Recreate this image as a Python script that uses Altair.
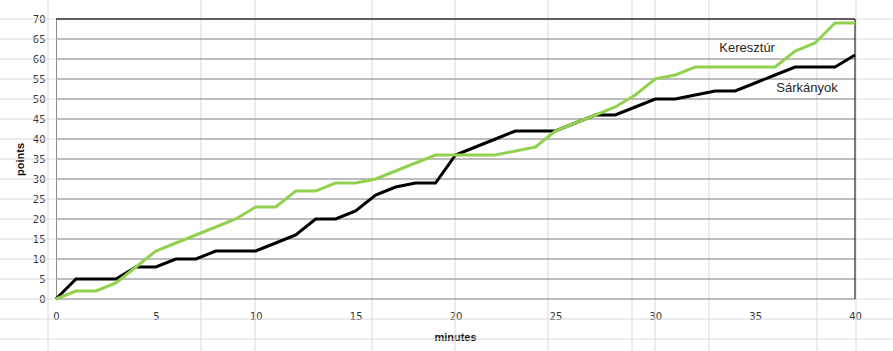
import altair as alt
import pandas as pd

# ---- data ----
minutes = list(range(0, 41))
sarkanyok = [0, 5, 5, 5, 8, 8, 10, 10, 12, 12, 12, 14, 16, 20, 20, 22, 26, 28, 29, 29,
             36, 38, 40, 42, 42, 42, 44, 46, 46, 48, 50, 50, 51, 52, 52, 54, 56, 58, 58, 58, 61]
keresztur = [0, 2, 2, 4, 8, 12, 14, 16, 18, 20, 23, 23, 27, 27, 29, 29, 30, 32, 34, 36,
             36, 36, 36, 37, 38, 42, 44, 46, 48, 51, 55, 56, 58, 58, 58, 58, 58, 62, 64, 69, 69]
x_ticks = [0, 5, 10, 15, 20, 25, 30, 35, 40]
y_ticks = [0, 5, 10, 15, 20, 25, 30, 35, 40, 45, 50, 55, 60, 65, 70]
series_names = ["Sárkányok", "Keresztúr"]
label_minute = [37.6, 34.6]
label_points = [52.8, 62.8]

# ---- decoration: spreadsheet cell borders behind the chart (pixels) ----
PAD_L, PAD_T = 56, 19
W, H = 799, 280
sheet_cols = [48, 201, 255, 372, 455, 548, 632, 655, 709, 817, 856]
sheet_rows = [-1 + 20 * i for i in range(18)]

X_DOM = [0, 40]
Y_DOM = [0, 70]
GREEN = "#92d050"
GRID = "#8c8c8c"
SHEET = "#dadada"
FONT = "DejaVu Sans"
TFONT = "Liberation Sans"

xs = alt.Scale(domain=X_DOM, nice=False, zero=False)
ys = alt.Scale(domain=Y_DOM, nice=False, zero=False)

df_s = pd.DataFrame({"minute": minutes, "points": sarkanyok})
df_k = pd.DataFrame({"minute": minutes, "points": keresztur})
df_lbl = pd.DataFrame({"minute": label_minute, "points": label_points, "name": series_names})

cols_df = pd.DataFrame({"px": [c - PAD_L for c in sheet_cols]})
rows_df = pd.DataFrame({"py": [r - PAD_T for r in sheet_rows]})

sheet_v = alt.Chart(cols_df).mark_rule(color=SHEET, strokeWidth=1).encode(
    x=alt.X("px:Q", scale=None, axis=None),
    y=alt.value(-PAD_T), y2=alt.value(351 - PAD_T),
)
sheet_h = alt.Chart(rows_df).mark_rule(color=SHEET, strokeWidth=1).encode(
    y=alt.Y("py:Q", scale=None, axis=None),
    x=alt.value(-PAD_L), x2=alt.value(893 - PAD_L),
)

grid = alt.Chart(pd.DataFrame({"g": y_ticks})).mark_rule(color=GRID, strokeWidth=1).encode(
    y=alt.Y("g:Q", scale=ys, axis=None),
    x=alt.value(0), x2=alt.value(W),
)
top_border = alt.Chart(pd.DataFrame({"g": [Y_DOM[1]]})).mark_rule(color="black", strokeWidth=1).encode(
    y=alt.Y("g:Q", scale=ys, axis=None),
    x=alt.value(0), x2=alt.value(W),
)
right_border = alt.Chart(pd.DataFrame({"g": [X_DOM[1]]})).mark_rule(color="black", strokeWidth=1).encode(
    x=alt.X("g:Q", scale=xs, axis=None),
    y=alt.value(0), y2=alt.value(H),
)

line_s = alt.Chart(df_s).mark_line(color="black", strokeWidth=3).encode(
    x=alt.X("minute:Q", scale=xs,
            axis=alt.Axis(values=x_ticks, title="minutes", grid=False, ticks=False, domain=False,
                          labelFlush=False, labelOverlap=False,
                          labelFont=FONT, labelFontSize=10, labelColor="#333333", labelPadding=12,
                          titleFont=TFONT, titleFontSize=11, titleFontWeight="bold", titleColor="#111111",
                          titleX=455 - PAD_L, titleY=38, titleBaseline="middle", titleAlign="center")),
    y=alt.Y("points:Q", scale=ys,
            axis=alt.Axis(values=y_ticks, title="points", grid=False, ticks=False, domain=True,
                          labelFlush=False, labelOverlap=False,
                          domainColor=GRID, domainWidth=1,
                          labelFont=FONT, labelFontSize=10, labelColor="#333333", labelPadding=11,
                          titleFont=TFONT, titleFontSize=11, titleFontWeight="bold", titleColor="#111111",
                          titleAngle=270, titleX=-36, titleY=H / 2, titleBaseline="middle", titleAlign="center")),
)
line_k = alt.Chart(df_k).mark_line(color=GREEN, strokeWidth=3).encode(
    x=alt.X("minute:Q", scale=xs, axis=None),
    y=alt.Y("points:Q", scale=ys, axis=None),
)
labels = alt.Chart(df_lbl).mark_text(font=TFONT, fontSize=13, color="#262626",
                                     align="center", baseline="middle").encode(
    x=alt.X("minute:Q", scale=xs, axis=None),
    y=alt.Y("points:Q", scale=ys, axis=None),
    text="name:N",
)

chart = alt.layer(
    sheet_v, sheet_h, grid, top_border, right_border, line_s, line_k, labels
).resolve_scale(x="independent", y="independent").properties(
    width=W, height=H,
    autosize=alt.AutoSizeParams(type="none"),
    padding={"left": PAD_L, "top": PAD_T, "right": 893 - PAD_L - W, "bottom": 351 - PAD_T - H},
    background="white",
).configure_view(stroke=None)

chart.save("out.html", embed_options={"renderer": "svg", "actions": False})
